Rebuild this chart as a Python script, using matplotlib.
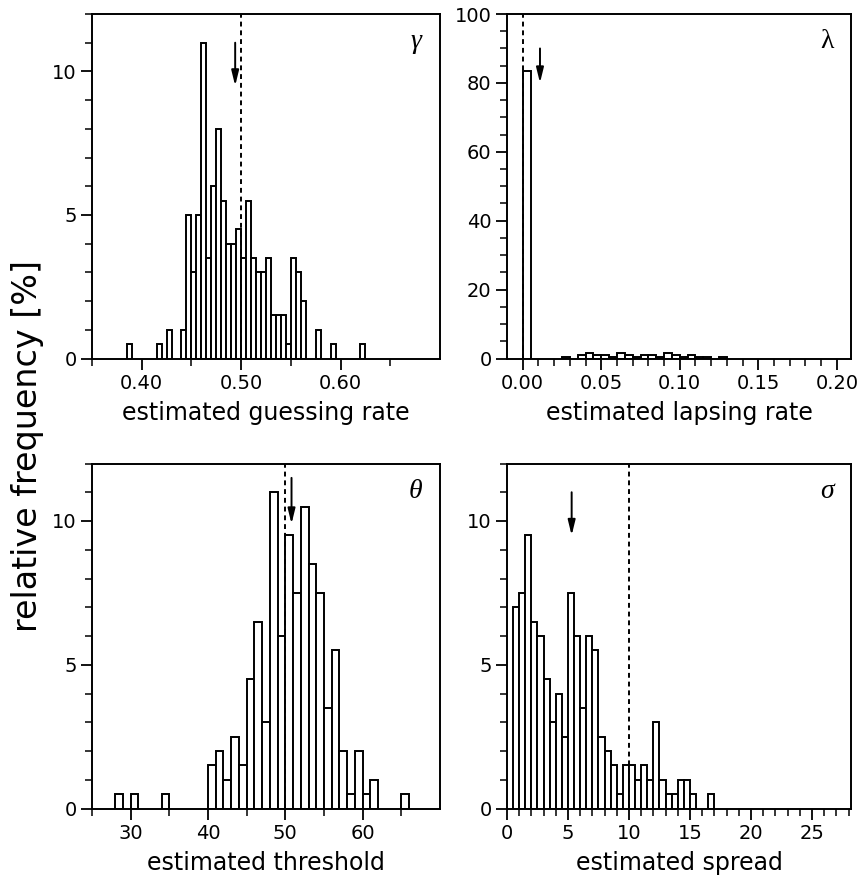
import matplotlib
matplotlib.use("Agg")
import matplotlib.pyplot as plt
from matplotlib.ticker import MultipleLocator, FixedLocator

plt.rcParams['font.family'] = ['DejaVu Sans']

# ---------------- data (relative frequency in %) ----------------
gamma_left = [0.385, 0.415, 0.425, 0.440, 0.445, 0.450, 0.455, 0.460, 0.465, 0.470,
              0.475, 0.480, 0.485, 0.490, 0.495, 0.500, 0.505, 0.510, 0.515, 0.520,
              0.525, 0.530, 0.535, 0.540, 0.545, 0.550, 0.555, 0.560, 0.575, 0.590, 0.620]
gamma_pct = [0.5, 0.5, 1.0, 1.0, 5.0, 3.0, 5.0, 11.0, 3.5, 6.0,
             8.0, 5.5, 4.0, 4.0, 4.5, 3.5, 5.5, 3.5, 3.0, 3.0,
             3.5, 1.5, 1.5, 1.5, 0.5, 3.5, 3.0, 2.0, 1.0, 0.5, 0.5]
gamma_width = 0.005

lambda_left = [0.000, 0.025, 0.035, 0.040, 0.045, 0.050, 0.055, 0.060, 0.065, 0.070,
               0.075, 0.080, 0.085, 0.090, 0.095, 0.100, 0.105, 0.110, 0.115, 0.125]
lambda_pct = [83.5, 0.5, 1.0, 1.5, 1.0, 1.0, 0.5, 1.5, 1.0, 0.5,
              1.0, 1.0, 0.5, 1.5, 1.0, 0.5, 1.0, 0.5, 0.5, 0.5]
lambda_width = 0.005

theta_left = [28, 30, 34, 40, 41, 42, 43, 44, 45, 46, 47, 48, 49, 50, 51, 52, 53,
              54, 55, 56, 57, 58, 59, 60, 61, 65]
theta_pct = [0.5, 0.5, 0.5, 1.5, 2.0, 1.0, 2.5, 1.5, 4.5, 6.5, 3.0, 11.0, 6.0, 9.5,
             7.5, 10.5, 8.5, 7.5, 3.5, 5.5, 2.0, 0.5, 2.0, 0.5, 1.0, 0.5]
theta_width = 1.0

sigma_left = [0.5, 1.0, 1.5, 2.0, 2.5, 3.0, 3.5, 4.0, 4.5, 5.0, 5.5, 6.0, 6.5, 7.0,
              7.5, 8.0, 8.5, 9.0, 9.5, 10.0, 10.5, 11.0, 11.5, 12.0, 12.5, 13.0,
              13.5, 14.0, 14.5, 15.0, 16.5]
sigma_pct = [7.0, 7.5, 9.5, 6.5, 6.0, 4.5, 3.0, 4.0, 2.5, 7.5, 6.0, 3.5, 6.0, 5.5,
             2.5, 2.0, 1.5, 0.5, 1.5, 1.5, 1.0, 1.5, 1.0, 3.0, 1.0, 0.5,
             0.5, 1.0, 1.0, 0.5, 0.5]
sigma_width = 0.5

# true generating values (dashed) and mean estimates (arrows)
true_vals = {'gamma': 0.50, 'lambda': 0.0, 'theta': 50.0, 'sigma': 10.0}
arrow_x = {'gamma': 0.494, 'lambda': 0.011, 'theta': 50.8, 'sigma': 5.3}
arrow_y = {'gamma': (11.0, 9.5), 'lambda': (90.0, 80.0), 'theta': (11.5, 9.9), 'sigma': (11.0, 9.5)}

xlabels = {'gamma': 'estimated guessing rate', 'lambda': 'estimated lapsing rate',
           'theta': 'estimated threshold', 'sigma': 'estimated spread'}
greek = {'gamma': 'γ', 'lambda': 'λ', 'theta': 'θ', 'sigma': 'σ'}

# ---------------- figure ----------------
fig = plt.figure(figsize=(8.62, 8.92), dpi=100)
W, H = 862.0, 892.0

def axrect(x0, x1, ytop, ybot):
    return [x0 / W, 1 - ybot / H, (x1 - x0) / W, (ybot - ytop) / H]

ax_g = fig.add_axes(axrect(92, 440, 14, 358.5))
ax_l = fig.add_axes(axrect(507, 851, 14, 358.5))
ax_t = fig.add_axes(axrect(92, 440, 463.5, 808.5))
ax_s = fig.add_axes(axrect(507, 851, 463.5, 808.5))

panels = [
    ('gamma', ax_g, gamma_left, gamma_pct, gamma_width, (0.35, 0.70), (0, 12),
     [0.40, 0.50, 0.60], ['0.40', '0.50', '0.60'], [0.35, 0.45, 0.55, 0.65], [0, 5, 10], 1),
    ('lambda', ax_l, lambda_left, lambda_pct, lambda_width, (-0.01, 0.209), (0, 100),
     [0.00, 0.05, 0.10, 0.15, 0.20], ['0.00', '0.05', '0.10', '0.15', '0.20'],
     [i * 0.01 for i in range(0, 21)], [0, 20, 40, 60, 80, 100], 5),
    ('theta', ax_t, theta_left, theta_pct, theta_width, (25, 70), (0, 12),
     [30, 40, 50, 60], ['30', '40', '50', '60'], [25, 35, 45, 55, 65], [0, 5, 10], 1),
    ('sigma', ax_s, sigma_left, sigma_pct, sigma_width, (0, 28.2), (0, 12),
     [0, 5, 10, 15, 20, 25], ['0', '5', '10', '15', '20', '25'],
     list(range(0, 29)), [0, 5, 10], 1),
]

for key, ax, left, pct, width, xlim, ylim, xt, xtl, xminor, yt, yminor in panels:
    ax.bar(left, pct, width=width, align='edge', facecolor='white',
           edgecolor='black', linewidth=1.4, zorder=2)
    ax.axvline(true_vals[key], color='black', linestyle=(0, (2.5, 2)), linewidth=1.4, zorder=3)
    y0, y1 = arrow_y[key]
    ax.annotate('', xy=(arrow_x[key], y1), xytext=(arrow_x[key], y0),
                arrowprops=dict(arrowstyle='-|>,head_length=0.9,head_width=0.22',
                                color='black', lw=1.4, shrinkA=0, shrinkB=0),
                zorder=4)
    ax.set_xlim(*xlim)
    ax.set_ylim(*ylim)
    ax.set_xticks(xt)
    ax.set_xticklabels(xtl)
    ax.xaxis.set_minor_locator(FixedLocator(xminor))
    ax.set_yticks(yt)
    ax.set_yticklabels([str(v) for v in yt])
    ax.yaxis.set_minor_locator(MultipleLocator(yminor))
    ax.tick_params(which='major', direction='out', length=8, width=1.3, labelsize=14, pad=3)
    ax.tick_params(which='minor', direction='out', length=5, width=1.1)
    for sp in ax.spines.values():
        sp.set_linewidth(1.4)
    ax.set_xlabel(xlabels[key], fontsize=17, labelpad=6)
    style = 'normal' if key == 'lambda' else 'italic'
    ax.text(0.93, 0.92, greek[key], transform=ax.transAxes, ha='center', va='center',
            fontsize=20, style=style, family=['Liberation Serif', 'DejaVu Serif'])

fig.text(28 / W, 0.5, 'relative frequency [%]', rotation=90, ha='center', va='center',
         fontsize=24)

fig.savefig('out.png', dpi=100)
